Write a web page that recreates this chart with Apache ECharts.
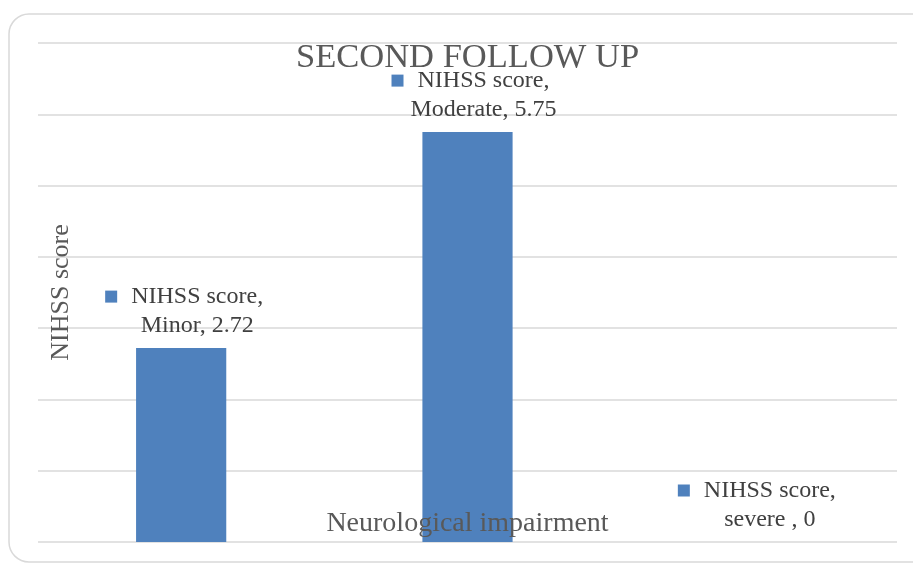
<!DOCTYPE html>
<html>
<head>
<meta charset="utf-8">
<script src="https://cdn.jsdelivr.net/npm/echarts@6/dist/echarts.min.js"></script>
<style>
  html, body { margin: 0; padding: 0; background: #ffffff; }
  #chart { width: 913px; height: 564px; }
</style>
</head>
<body>
<div id="chart"></div>
<script>
// Neurological impairment groups and their NIHSS scores at the second follow up
const categories = ['Minor', 'Moderate', 'severe '];
const scores = [2.72, 5.75, 0];
const seriesName = 'NIHSS score';
const yTicks = [0, 1, 2, 3, 4, 5, 6, 7];

const barColor = '#4F81BD';
const serif = '"Liberation Serif", "DejaVu Serif", serif';

const chart = echarts.init(document.getElementById('chart'), null, { renderer: 'canvas' });

chart.setOption({
  animation: false,
  backgroundColor: '#ffffff',
  graphic: [{
    type: 'rect',
    shape: { x: 9, y: 14, width: 930, height: 548, r: 20 },
    style: { fill: 'none', stroke: '#d9d9d9', lineWidth: 1.5 },
    silent: true,
    z: -10
  }],
  title: {
    text: 'SECOND FOLLOW UP',
    left: 296,
    top: 40,
    padding: 0,
    textStyle: { fontFamily: serif, fontSize: 34.5, fontWeight: 'normal', color: '#595959' }
  },
  grid: { left: 38, right: 16, top: 43, bottom: 22, containLabel: false },
  xAxis: {
    type: 'category',
    data: categories,
    z: 5,
    name: 'Neurological impairment',
    nameLocation: 'middle',
    nameGap: -32,
    nameTextStyle: { fontFamily: serif, fontSize: 28, color: '#595959' },
    axisLine: { show: false },
    axisTick: { show: false },
    axisLabel: { show: false }
  },
  yAxis: {
    type: 'value',
    min: yTicks[0],
    max: yTicks[yTicks.length - 1],
    interval: 1,
    name: 'NIHSS score',
    nameLocation: 'middle',
    nameGap: -36,
    nameTextStyle: { fontFamily: serif, fontSize: 26, color: '#595959' },
    axisLine: { show: false },
    axisTick: { show: false },
    axisLabel: { show: false },
    splitLine: { lineStyle: { color: '#d9d9d9', width: 1.5 } }
  },
  series: [{
    name: seriesName,
    type: 'bar',
    data: scores,
    barWidth: '31.5%',
    itemStyle: { color: barColor },
    label: {
      show: true,
      position: 'top',
      distance: 8,
      offset: [16, 0],
      align: 'center',
      // legend key hangs to the left of the first line; a spacer keeps the text centred
      formatter: (p) => '{sq|}{gap|}{t|' + seriesName + ',}{sp|}\n{t|' + p.name + ', ' + p.value + '}',
      rich: {
        sq: { width: 12, height: 12, backgroundColor: barColor },
        gap: { width: 14 },
        sp: { width: 26 },
        t: { fontFamily: serif, fontSize: 24, color: '#404040', lineHeight: 29 }
      }
    }
  }]
});
</script>
</body>
</html>
